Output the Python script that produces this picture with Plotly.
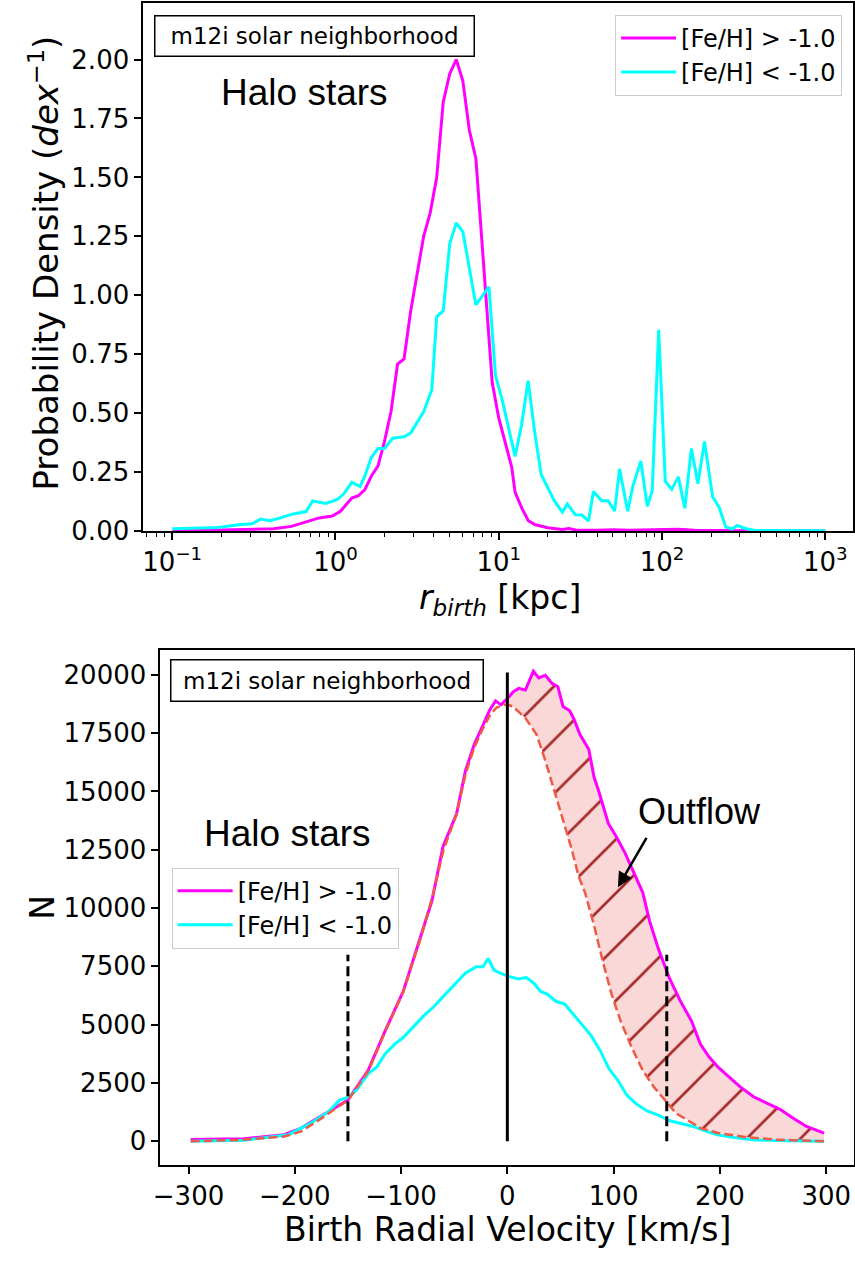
import plotly.graph_objects as go

# ---------------- top panel data: probability density vs r_birth ----------------
r_metal_rich = [0.1, 0.158, 0.302, 0.417, 0.537, 0.661, 0.794, 0.955, 1.072, 1.259, 1.380, 1.514,
                1.660, 1.820, 1.995, 2.188, 2.399, 2.630, 2.884, 3.467, 3.802, 4.169, 4.571, 5.012,
                5.495, 6.026, 6.607, 7.244, 8.318, 9.120, 10.0, 10.96, 12.02, 12.59, 13.80, 15.14,
                16.60, 19.95, 24.55, 26.92, 29.51, 39.81, 50.12, 63.10, 89.13, 125.9, 158.5, 223.9,
                316.2, 1000.0]
pdf_metal_rich = [0.0, 0.003, 0.006, 0.010, 0.020, 0.038, 0.056, 0.064, 0.084, 0.140, 0.150, 0.176,
                  0.234, 0.276, 0.380, 0.506, 0.708, 0.730, 0.930, 1.25, 1.35, 1.50, 1.82, 1.94,
                  2.00, 1.91, 1.70, 1.58, 1.00, 0.63, 0.48, 0.38, 0.27, 0.165, 0.10, 0.045,
                  0.028, 0.014, 0.007, 0.011, 0.005, 0.004, 0.006, 0.004, 0.006, 0.008, 0.004, 0.002,
                  0.001, 0.0]

r_metal_poor = [0.1, 0.191, 0.263, 0.309, 0.347, 0.398, 0.437, 0.550, 0.661, 0.724, 0.871, 1.023,
                1.122, 1.259, 1.413, 1.514, 1.660, 1.820, 1.995, 2.239, 2.630, 2.884, 3.467, 3.890,
                4.169, 4.571, 5.012, 5.495, 6.026, 7.244, 8.710, 9.550, 10.47, 11.48, 12.59, 13.80,
                15.14, 16.60, 18.20, 21.88, 24.55, 26.30, 29.51, 32.36, 35.48, 38.02, 42.66, 46.77,
                51.29, 54.95, 61.66, 66.07, 74.13, 81.28, 87.10, 95.50, 104.7, 114.8, 125.9, 138.0,
                151.4, 166.0, 182.0, 204.2, 223.9, 245.5, 269.2, 288.4, 323.6, 371.5, 1000.0]
pdf_metal_poor = [0.010, 0.015, 0.028, 0.031, 0.051, 0.044, 0.052, 0.073, 0.083, 0.128, 0.117, 0.133,
                  0.157, 0.207, 0.189, 0.234, 0.313, 0.350, 0.350, 0.394, 0.400, 0.416, 0.506, 0.600,
                  0.910, 0.934, 1.220, 1.307, 1.270, 0.960, 1.036, 0.660, 0.560, 0.443, 0.317, 0.450,
                  0.638, 0.420, 0.240, 0.129, 0.080, 0.115, 0.069, 0.068, 0.043, 0.168, 0.129, 0.129,
                  0.085, 0.264, 0.084, 0.186, 0.298, 0.105, 0.170, 0.854, 0.212, 0.177, 0.230, 0.097,
                  0.350, 0.201, 0.380, 0.146, 0.101, 0.018, 0.009, 0.024, 0.011, 0.003, 0.002]

top_tick_vals = [0.1, 1, 10, 100, 1000]
top_tick_text = ["10<sup>\u22121</sup>", "10<sup>0</sup>", "10<sup>1</sup>", "10<sup>2</sup>", "10<sup>3</sup>"]
top_minor_vals = [0.07, 0.08, 0.09, 0.2, 0.3, 0.4, 0.5, 0.6, 0.7, 0.8, 0.9,
                  2, 3, 4, 5, 6, 7, 8, 9, 20, 30, 40, 50, 60, 70, 80, 90,
                  200, 300, 400, 500, 600, 700, 800, 900]
top_y_ticks = [0.0, 0.25, 0.5, 0.75, 1.0, 1.25, 1.5, 1.75, 2.0]

# ---------------- bottom panel data: N vs birth radial velocity ----------------
v_metal_rich = [-298, -248, -210, -194, -176, -150, -131, -115, -98, -82, -71, -60.5, -47.7, -39.4,
                -31.1, -22.7, -16.5, -11.1, -6, 0.3, 5.7, 10.7, 17, 24.5, 29.5, 35.8, 42, 47.5,
                52.4, 58.7, 62.9, 68.3, 76.6, 81.6, 85.8, 95, 102.4, 110.8, 119.1, 127.4, 133.7,
                142, 152.5, 162.9, 173.3, 181.6, 190, 198.3, 208.7, 219.1, 231.6, 244, 256.6, 269,
                281.5, 298]
n_metal_rich = [80, 113, 282, 565, 1059, 1765, 3037, 4731, 6427, 8686, 10300, 12641, 14054, 15890,
                17020, 17867, 18503, 18884, 18715, 19000, 19280, 19420, 19350, 20155, 19873, 19986,
                19633, 19492, 18644, 18460, 18079, 17444, 16808, 15608, 15043, 13630, 13065, 12359,
                11511, 10664, 9463, 8263, 6992, 6003, 5155, 4167, 3602, 3178, 2754, 2331, 1907,
                1653, 1370, 989, 636, 353]

v_metal_poor = [-298, -248, -206, -185, -168, -158, -150, -142, -131, -123, -115, -106, -98, -87.5,
                -79, -68.9, -58.5, -48, -39.6, -29.2, -23, -18, -12.6, -6.3, 2, 10.4, 17.8, 25,
                31.2, 37.4, 45.7, 54, 62.4, 70.7, 79, 87.4, 95.7, 104, 112.4, 120.7, 131, 143.6,
                152, 164.4, 174.8, 187.3, 197.7, 210, 231, 252, 298]
n_metal_poor = [0, 40, 282, 777, 1271, 1765, 1878, 2189, 2895, 3178, 3743, 4167, 4449, 4943, 5367,
                5790, 6285, 6779, 7203, 7485, 7485, 7839, 7344, 7203, 7062, 6963, 7020, 6779, 6426,
                6313, 6003, 5889, 5437, 4943, 4519, 3884, 3107, 2613, 1977, 1624, 1313, 1088, 890,
                749, 636, 424, 282, 184, 70, 28, 0]

v_fit = [-298, -250, -210, -194, -176, -150, -131, -115, -98, -82, -71, -60, -48, -39, -31, -23,
         -16, -10, -3, 0, 5, 17, 27.5, 35.8, 44.1, 52.4, 60.7, 67, 73.2, 81.6, 89.9, 98.2, 106.6,
         117, 127.4, 137.8, 148.3, 158.7, 169.1, 181.6, 198.3, 223.3, 252, 298]
n_fit = [0, 60, 200, 420, 950, 1765, 3000, 4700, 6400, 8650, 10400, 12500, 14000, 15800, 16900,
         17700, 18300, 18600, 18720, 18720, 18650, 18150, 17444, 16314, 15043, 13771, 12500, 11370,
         10650, 9250, 7695, 6285, 5155, 4026, 3037, 2331, 1765, 1201, 918, 565, 353, 184, 70, 0]

# reference velocity markers
vline_solid_x = [0, 0]
vline_solid_y = [0, 20100]
vline_dash_left_x = [-150, -150]
vline_dash_right_x = [150, 150]
vline_dash_y = [0, 8000]

MAGENTA = "#ff00ff"
CYAN = "#00ffff"
FIT = "#ef5a46"
FONT = "DejaVu Sans"
W, H = 855, 1262


def px(x):
    return x / W


def py(y):
    return 1 - y / H


fig = go.Figure()

# top panel
fig.add_trace(go.Scatter(x=r_metal_rich, y=pdf_metal_rich, mode="lines",
                         line=dict(color=MAGENTA, width=3), name="[Fe/H] > -1.0",
                         xaxis="x", yaxis="y", legend="legend"))
fig.add_trace(go.Scatter(x=r_metal_poor, y=pdf_metal_poor, mode="lines",
                         line=dict(color=CYAN, width=3), name="[Fe/H] < -1.0",
                         xaxis="x", yaxis="y", legend="legend"))

# bottom panel: outflow shaded region (between fit and metal-rich, v >= 0)
lo_x = [v for v in v_fit if v >= 0]
lo_y = [n for v, n in zip(v_fit, n_fit) if v >= 0]
hi_x = [v for v in v_metal_rich if v >= 0]
hi_y = [n for v, n in zip(v_metal_rich, n_metal_rich) if v >= 0]
fig.add_trace(go.Scatter(x=lo_x, y=lo_y, mode="lines", line=dict(width=0, color="rgba(0,0,0,0)"),
                         showlegend=False, hoverinfo="skip", xaxis="x2", yaxis="y2"))
fig.add_trace(go.Scatter(x=hi_x, y=hi_y, mode="lines", line=dict(width=0, color="rgba(0,0,0,0)"),
                         fill="tonexty", fillcolor="rgba(240,128,128,0.3)",
                         fillpattern=dict(shape="/", bgcolor="rgba(240,128,128,0.3)",
                                          fgcolor="#a52a2a", fgopacity=1, size=38, solidity=0.07),
                         showlegend=False, hoverinfo="skip", xaxis="x2", yaxis="y2"))

fig.add_trace(go.Scatter(x=v_metal_rich, y=n_metal_rich, mode="lines",
                         line=dict(color=MAGENTA, width=3), name="[Fe/H] > -1.0",
                         xaxis="x2", yaxis="y2", legend="legend2"))
fig.add_trace(go.Scatter(x=v_metal_poor, y=n_metal_poor, mode="lines",
                         line=dict(color=CYAN, width=3), name="[Fe/H] < -1.0",
                         xaxis="x2", yaxis="y2", legend="legend2"))
fig.add_trace(go.Scatter(x=v_fit, y=n_fit, mode="lines",
                         line=dict(color=FIT, width=2.5, dash="9px,4px"),
                         showlegend=False, xaxis="x2", yaxis="y2"))
fig.add_trace(go.Scatter(x=vline_solid_x, y=vline_solid_y, mode="lines",
                         line=dict(color="black", width=3), showlegend=False, xaxis="x2", yaxis="y2"))
for vx in (vline_dash_left_x, vline_dash_right_x):
    fig.add_trace(go.Scatter(x=vx, y=vline_dash_y, mode="lines",
                             line=dict(color="black", width=3, dash="10px,5px"),
                             showlegend=False, xaxis="x2", yaxis="y2"))

axis_common = dict(showline=True, linecolor="black", linewidth=1.5, mirror=True,
                   ticks="outside", ticklen=7, tickwidth=1.5, tickcolor="black",
                   showgrid=False, zeroline=False,
                   tickfont=dict(family=FONT, size=26, color="black"))

legend_common = dict(bgcolor="white", bordercolor="#cccccc", borderwidth=1,
                     traceorder="normal", itemwidth=55,
                     font=dict(family=FONT, size=24, color="black"))

fig.update_layout(
    width=W, height=H,
    margin=dict(l=0, r=0, t=0, b=0),
    paper_bgcolor="white", plot_bgcolor="white",
    font=dict(family=FONT, color="black"),
    xaxis=dict(type="log", range=[-1.178, 3.172], domain=[px(137.3), px(853.3)], anchor="y",
               tickvals=top_tick_vals, ticktext=top_tick_text,
               minor=dict(tickvals=top_minor_vals, ticks="outside", ticklen=4, tickwidth=1,
                          tickcolor="black"),
               **axis_common),
    yaxis=dict(range=[0, 2.24], domain=[py(537.5), py(3)], anchor="x",
               tickvals=top_y_ticks, tickformat=".2f", **axis_common),
    xaxis2=dict(range=[-326.6, 325.8], domain=[px(154.5), px(853.6)], anchor="y2",
                tick0=0, dtick=100, **axis_common),
    yaxis2=dict(range=[-1017, 21059], domain=[py(1179), py(658)], anchor="x2",
                tick0=0, dtick=2500, tickformat="d", **axis_common),
    legend=dict(x=px(842), y=py(15), xanchor="right", yanchor="top", **legend_common),
    legend2=dict(x=px(166), y=py(878), xanchor="left", yanchor="top", **legend_common),
    showlegend=True,
)

annotations = [
    # axis titles
    dict(text="Probability Density (<i>dex</i><sup>\u22121</sup>)", x=px(37), y=py(266), textangle=-90,
         font=dict(family=FONT, size=34)),
    dict(text="<i>r</i><sub><i>birth</i></sub> [kpc]", x=px(497), y=py(607),
         font=dict(family=FONT, size=33)),
    dict(text="N", x=px(35), y=py(918), textangle=-90, font=dict(family=FONT, size=33)),
    dict(text="Birth Radial Velocity [km/s]", x=px(505), y=py(1244),
         font=dict(family=FONT, size=33)),
    # boxed labels
    dict(text="m12i solar neighborhood", x=px(310), y=py(36.5), width=318, height=39,
         bordercolor="black", borderwidth=1.5, borderpad=0, bgcolor="white",
         font=dict(family=FONT, size=23)),
    dict(text="m12i solar neighborhood", x=px(323), y=py(689), width=311, height=40,
         bordercolor="black", borderwidth=1.5, borderpad=0, bgcolor="white",
         font=dict(family=FONT, size=23)),
    dict(text="Halo stars", x=px(300), y=py(94), font=dict(family="Liberation Sans", size=37)),
    dict(text="Halo stars", x=px(283), y=py(844), font=dict(family="Liberation Sans", size=37)),
    dict(text="Outflow", x=px(698), y=py(821), font=dict(family="Liberation Sans", size=36)),
]
for a in annotations:
    a.setdefault("xref", "paper")
    a.setdefault("yref", "paper")
    a.setdefault("showarrow", False)
    a.setdefault("xanchor", "center")
    a.setdefault("yanchor", "middle")
    a["font"].setdefault("color", "black")
    fig.add_annotation(**a)

# arrow pointing into the outflow region
fig.add_annotation(x=104, y=10890, xref="x2", yref="y2", ax=29.5, ay=-51, text="",
                   showarrow=True, arrowhead=2, arrowsize=1.2, arrowwidth=2.5, arrowcolor="black")

fig.write_html("out.html")
